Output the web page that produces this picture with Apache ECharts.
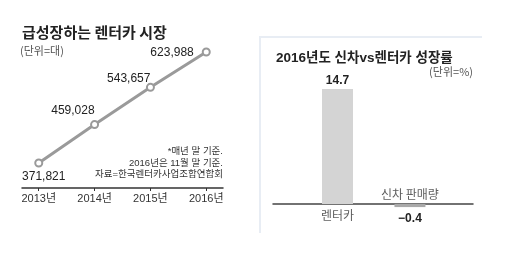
<!DOCTYPE html>
<html><head><meta charset="utf-8">
<script src="https://cdn.jsdelivr.net/npm/echarts@6/dist/echarts.min.js"></script>
<style>html,body{margin:0;padding:0;background:#fff}#c{width:521px;height:261px}</style>
</head><body><div id="c"></div>
<script>
const years = [2013, 2014, 2015, 2016];
const rentalCars = [371821, 459028, 543657, 623988];
const growthCats = ['렌터카', '신차 판매량'];
const growthVals = [14.7, -0.4];

const F = '"Liberation Sans","Noto Sans CJK KR",sans-serif';
const KF = '"Noto Sans CJK KR",sans-serif';
const fmt = v => v.toLocaleString('en-US');

const lineLabels = [
  {position: 'bottom', distance: 3, offset: [5, 0]},
  {position: 'top', align: 'right', distance: 3, offset: [0, 0]},
  {position: 'top', align: 'right', distance: 0, offset: [0, 2]},
  {position: 'left', distance: 8, offset: [0, 1]}
];

const chart = echarts.init(document.getElementById('c'), null, {renderer: 'canvas'});
chart.setOption({
  animation: false,
  textStyle: {fontFamily: F},
  graphic: [
    {type: 'polyline', shape: {points: [[260, 233], [260, 37], [482, 37]]},
     style: {stroke: '#e8edf4', lineWidth: 2, fill: null}, z: -1},
    {type: 'text', x: 22, y: 25, style: {text: '급성장하는 렌터카 시장', font: 'bold 15px ' + KF, fill: '#222'}},
    {type: 'text', x: 20, y: 45, style: {text: '(단위=대)', font: '11px ' + KF, fill: '#555'}},
    {type: 'text', x: 223, y: 146, style: {text: '*매년 말 기준.\n2016년은 11월 말 기준.\n자료=한국렌터카사업조합연합회', font: '9.5px ' + F, fill: '#333', align: 'right', verticalAlign: 'top', lineHeight: 11.5}},
    {type: 'text', x: 276, y: 52, style: {text: '2016년도 신차vs렌터카 성장률', font: 'bold 13.5px ' + F, fill: '#222'}},
    {type: 'text', x: 473, y: 66, style: {text: '(단위=%)', font: '11px ' + KF, fill: '#555', align: 'right', verticalAlign: 'top'}}
  ],
  grid: [
    {left: 22, width: 201, top: 18.5, height: 169.5},
    {left: 273, width: 200, top: 47.5, height: 172.1}
  ],
  xAxis: [
    {type: 'value', gridIndex: 0, min: 2012.7, max: 2016.3,
     axisLine: {show: true, lineStyle: {color: '#333', width: 1.5}},
     axisTick: {show: true, customValues: years, length: 3, lineStyle: {color: '#333'}},
     axisLabel: {customValues: years, formatter: v => v + '년', color: '#333', fontSize: 11, fontFamily: F, margin: 5},
     splitLine: {show: false}},
    {type: 'value', gridIndex: 1, min: 0.11, max: 2.87,
     axisLine: {show: true, onZero: true, lineStyle: {color: '#444', width: 1.5}},
     axisTick: {show: false}, axisLabel: {show: false}, splitLine: {show: false}}
  ],
  yAxis: [
    {type: 'value', gridIndex: 0, min: 315000, max: 700000, show: false, splitLine: {show: false}},
    {type: 'value', gridIndex: 1, min: -2, max: 20, show: false, splitLine: {show: false}}
  ],
  series: [
    {type: 'line', xAxisIndex: 0, yAxisIndex: 0,
     data: years.map((y, i) => ({value: [y, rentalCars[i]],
       label: Object.assign({show: true, formatter: fmt(rentalCars[i]), color: '#222', fontSize: 12, fontFamily: F}, lineLabels[i])})),
     lineStyle: {color: '#9a9a9a', width: 3},
     symbol: 'circle', symbolSize: 7,
     itemStyle: {color: '#fff', borderColor: '#9a9a9a', borderWidth: 2}},
    {type: 'bar', xAxisIndex: 1, yAxisIndex: 1, barWidth: 31,
     data: growthVals.map((v, i) => ({value: [i + 1, v],
       itemStyle: {color: v >= 0 ? '#d4d4d4' : '#a9a9a9'},
       label: {show: true, position: v >= 0 ? 'top' : 'bottom', distance: v >= 0 ? 2 : 6,
         formatter: (v < 0 ? '−' + Math.abs(v) : String(v)), color: '#222', fontSize: 12, fontWeight: 'bold', fontFamily: F}}))},
    {type: 'scatter', xAxisIndex: 1, yAxisIndex: 1, symbolSize: 0.1,
     data: growthCats.map((c, i) => ({value: [i + 1, 0], name: c,
       label: {show: true, position: growthVals[i] >= 0 ? 'bottom' : 'top', distance: growthVals[i] >= 0 ? 5 : 3,
         formatter: c, color: '#333', fontSize: 12, fontFamily: KF}}))}
  ]
});
</script></body></html>
